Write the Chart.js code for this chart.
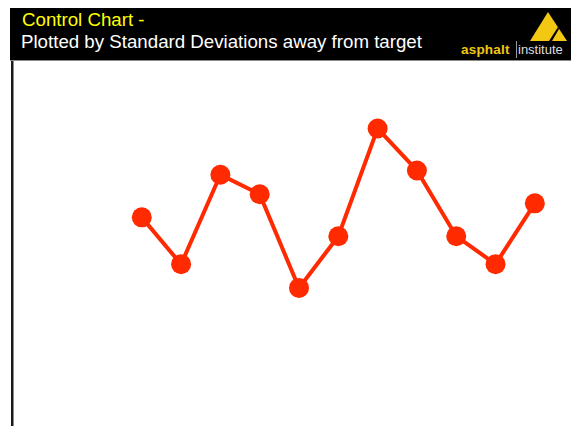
<!DOCTYPE html>
<html lang="en">
<head>
    <meta charset="UTF-8">
    <title>Control Chart</title>
    <script src="https://cdn.jsdelivr.net/npm/chart.js"></script>
    <style>
        html, body { margin: 0; padding: 0; background: #fff; }
        body { width: 571px; height: 426px; position: relative; overflow: hidden; font-family: "Liberation Sans", Arial, sans-serif; }
        .header {
            position: absolute; left: 10px; top: 8px; width: 561px; height: 52px;
            background: #000;
        }
        .header .t1 { position: absolute; left: 12px; top: 1px; color: #ffff00; font-size: 18.7px; line-height: 22px; }
        .header .t2 { position: absolute; left: 11px; top: 23px; color: #fff; font-size: 18.7px; line-height: 22px; }
        .logo { position: absolute; left: 450px; top: 0; width: 111px; height: 52px; }
        .logo .a { position: absolute; left: 1px; top: 35px; color: #f2c813; font-weight: bold; font-size: 13.5px; line-height: 14px; letter-spacing: 0.2px; }
        .logo .sep { position: absolute; left: 56px; top: 33px; width: 1px; height: 17px; background: #999; }
        .logo .i { position: absolute; left: 58px; top: 35px; color: #ddd; font-size: 13px; line-height: 14px; }
        .plot {
            position: absolute; left: 10px; top: 60px; width: 561px; height: 366px;
            border-top: 1px solid #8a8a8a; box-sizing: border-box;
        }
        #wrap { position: absolute; left: 0; top: 61px; width: 571px; height: 365px; }
    </style>
</head>
<body>
    <div class="header">
        <div class="t1">Control Chart -</div>
        <div class="t2">Plotted by Standard Deviations away from target</div>
        <div class="logo">
            <svg width="111" height="52" style="position:absolute;left:0;top:0">
                <polygon points="88,4 70,33 107,33" fill="#f2c813"/>
                <polygon points="98,19 89,33 92,33 99,21" fill="#000"/>
            </svg>
            <div class="a">asphalt</div>
            <div class="sep"></div>
            <div class="i">institute</div>
        </div>
    </div>
    <div class="plot"></div>
    <div id="wrap"><canvas id="ctl" width="571" height="365"></canvas></div>

    <script>
        // sample number and its distance from target, in standard deviations
        const samples = [1, 2, 3, 4, 5, 6, 7, 8, 9, 10, 11];
        const sdValues = [0.43, -0.34, 1.13, 0.81, -0.73, 0.12, 1.89, 1.20, 0.12, -0.34, 0.66];

        const points = samples.map((s, i) => ({ x: s, y: sdValues[i] }));

        new Chart(document.getElementById('ctl').getContext('2d'), {
            type: 'line',
            data: {
                datasets: [{
                    data: points,
                    borderColor: '#ff2a00',
                    backgroundColor: '#ff2a00',
                    borderWidth: 4,
                    pointRadius: 10,
                    pointBorderWidth: 0,
                    tension: 0
                }]
            },
            options: {
                responsive: false,
                animation: false,
                layout: { padding: 0, autoPadding: false },
                plugins: { legend: { display: false }, tooltip: { enabled: false } },
                scales: {
                    x: {
                        type: 'linear',
                        display: false,
                        min: -2.302,
                        max: 11.92
                    },
                    y: {
                        min: -3,
                        max: 3,
                        ticks: { display: false },
                        grid: { display: false },
                        border: { display: true, color: '#1a1a1a', width: 2.5 },
                        afterFit: (axis) => { axis.width = 12; }
                    }
                }
            }
        });
    </script>
</body>
</html>
